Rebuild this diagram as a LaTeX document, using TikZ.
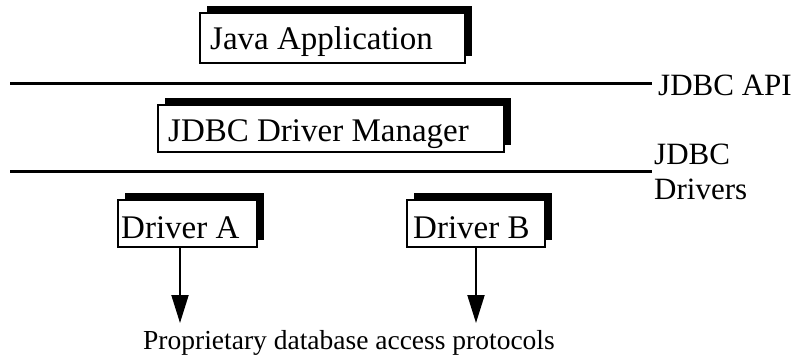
\documentclass[tikz,border=0pt]{standalone}
\usepackage{fontspec}
\setmainfont{Liberation Serif}
\usetikzlibrary{arrows.meta,shadows}
\begin{document}
\begin{tikzpicture}[x=1pt,y=-1pt,
  layerbox/.style={draw=black,line width=2pt,fill=white,inner sep=0pt,anchor=north west,
    general shadow={shadow xshift=7pt,shadow yshift=7pt,fill=black}},
  boxtext/.style={anchor=base west,inner sep=0pt,font=\fontsize{33}{38}\selectfont},
  sidelabel/.style={anchor=base west,inner sep=0pt,align=left,font=\fontsize{31}{35}\selectfont},
  layerline/.style={line width=3pt},
  callarrow/.style={line width=2pt,-{Triangle[width=17pt,length=28pt]}}]
\useasboundingbox (0,0) rectangle (801,362);

% application layer
\node[layerbox,minimum width=265pt,minimum height=50pt] (app) at (199,12) {};
\node[boxtext] (apptext) at (210,49) {Java Application};

% JDBC API boundary
\coordinate (apiL) at (10,83);
\coordinate (apiR) at (652,83);
\draw[layerline] (apiL) -- (apiR);
\node[sidelabel] (apilabel) at (658,95) {JDBC API};

% driver manager
\node[layerbox,minimum width=346pt,minimum height=47pt] (mgr) at (157,104) {};
\node[boxtext] (mgrtext) at (168,141) {JDBC Driver Manager};

% drivers boundary (multi-line label: base is the last line)
\coordinate (drvL) at (10,171);
\coordinate (drvR) at (652,171);
\draw[layerline] (drvL) -- (drvR);
\node[sidelabel] (drvlabel) at (654,199) {JDBC\\Drivers};

% drivers
\node[layerbox,minimum width=139pt,minimum height=47pt] (drvA) at (117,199) {};
\node[boxtext] (drvAtext) at (121,238) {Driver A};
\node[layerbox,minimum width=138pt,minimum height=47pt] (drvB) at (406,199) {};
\node[boxtext] (drvBtext) at (413,238) {Driver B};

% calls down to the database protocols
\coordinate (tipA) at (180,323);
\coordinate (tipB) at (476,323);
\draw[callarrow] (tipA |- drvA.south) -- (tipA);
\draw[callarrow] (tipB |- drvB.south) -- (tipB);

\node[anchor=base west,inner sep=0pt,font=\fontsize{27.5}{32}\selectfont] (proto) at (143,349)
  {Proprietary database access protocols};
\end{tikzpicture}
\end{document}
